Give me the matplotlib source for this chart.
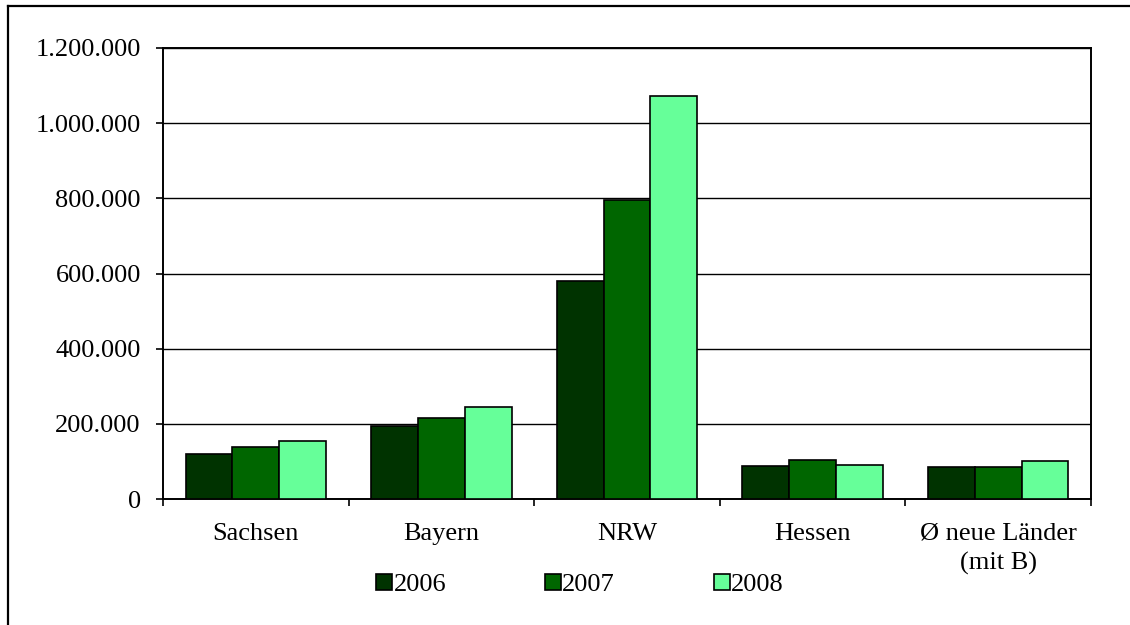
import matplotlib
matplotlib.use("Agg")
import matplotlib.pyplot as plt
import numpy as np
from matplotlib.lines import Line2D
from matplotlib.ticker import FuncFormatter, FixedLocator

# Data
categories = ["Sachsen", "Bayern", "NRW", "Hessen", "Ø neue Länder\n(mit B)"]
years = ["2006", "2007", "2008"]
values_2006 = [121000, 193500, 580000, 87000, 84000]
values_2007 = [137500, 216000, 795000, 103000, 85000]
values_2008 = [154500, 244000, 1071000, 89500, 100000]
y_ticks = [0, 200000, 400000, 600000, 800000, 1000000, 1200000]

colors = ["#003300", "#006600", "#66FF99"]
series = [values_2006, values_2007, values_2008]

plt.rcParams["font.family"] = ["Liberation Serif", "DejaVu Serif"]
plt.rcParams["font.size"] = 19

fig = plt.figure(figsize=(11.3, 6.25), dpi=100)
ax = fig.add_axes([163 / 1130, 1 - 499 / 625, (1091 - 163) / 1130, (499 - 48) / 625])

x = np.arange(len(categories))
bw = 0.2525
handles = []
for i, (vals, col, yr) in enumerate(zip(series, colors, years)):
    h = ax.bar(x + (i - 1) * bw, vals, width=bw, color=col, edgecolor="black",
               linewidth=1.2, label=yr, zorder=3)
    handles.append(h)

ax.set_xlim(-0.5, len(categories) - 0.5)
ax.set_ylim(0, 1200000)
ax.set_yticks(y_ticks)
ax.yaxis.set_major_formatter(FuncFormatter(lambda v, p: f"{int(v):,}".replace(",", ".")))
ax.yaxis.grid(True, color="black", linewidth=1.0, zorder=0)
ax.set_axisbelow(True)

# Category boundaries carry the tick marks, labels sit at the centres
ax.xaxis.set_major_locator(FixedLocator(np.arange(-0.5, len(categories), 1.0)))
ax.xaxis.set_major_formatter(FuncFormatter(lambda v, p: ""))
ax.xaxis.set_minor_locator(FixedLocator(x))
for lbl in ax.set_xticklabels(categories, minor=True):
    lbl.set_linespacing(1.4)
ax.tick_params(axis="x", which="major", direction="out", length=5, width=1.2, color="black")
ax.tick_params(axis="x", which="minor", length=0, pad=17)
ax.tick_params(axis="y", direction="out", length=5, width=1.2, pad=11)

for s in ax.spines.values():
    s.set_color("black")
    s.set_linewidth(1.4)

leg = fig.legend(handles=handles, labels=years, loc="center", ncol=3,
                 bbox_to_anchor=(580 / 1130, 1 - 585 / 625), frameon=False,
                 handlelength=0.6, handleheight=0.6, handletextpad=0.05,
                 columnspacing=3.75, fontsize=19, borderpad=0)

# Outer chart frame
fig.add_artist(Line2D([7.5 / 1130, 7.5 / 1130], [0, 1 - 5.5 / 625], color="black",
                      linewidth=1.6, transform=fig.transFigure))
fig.add_artist(Line2D([7.5 / 1130, 1], [1 - 5.5 / 625, 1 - 5.5 / 625], color="black",
                      linewidth=1.6, transform=fig.transFigure))

fig.savefig("out.png", dpi=100)
